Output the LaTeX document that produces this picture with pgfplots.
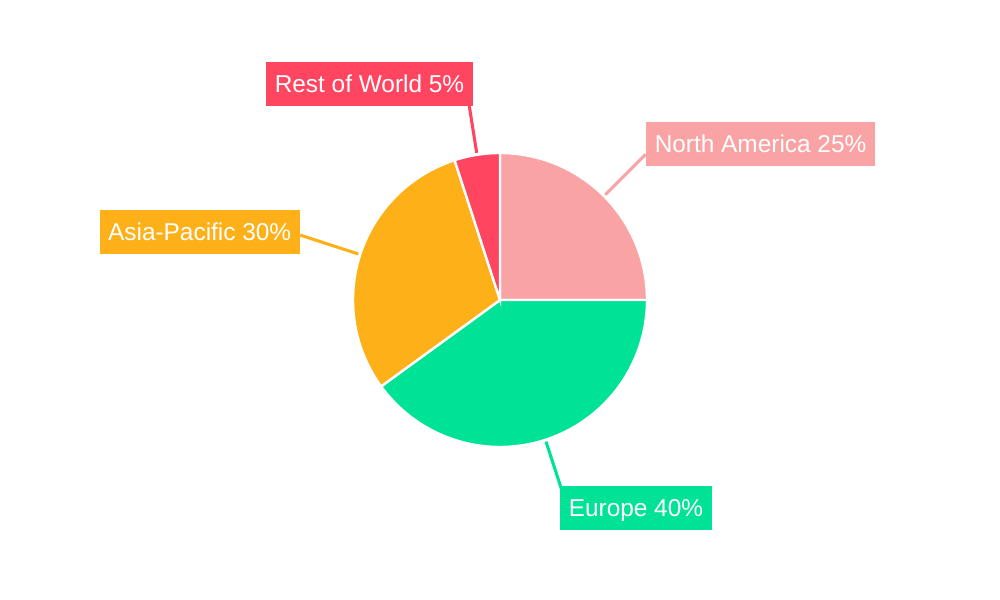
\documentclass[border=0pt]{standalone}
\usepackage{fontspec}
\setmainfont{Liberation Sans}
\usepackage{pgfplots}
\pgfplotsset{compat=1.18}

\definecolor{na}{HTML}{F9A3A4}
\definecolor{eu}{HTML}{00E396}
\definecolor{ap}{HTML}{FEB019}
\definecolor{rw}{HTML}{FF4560}

% pie centre (500,300), radius 147; slices run clockwise from 12 o'clock,
% parameter t is the cumulative share in percent
\newcommand{\slice}[3]{%
  \addplot[fill=#1, draw=white, line width=1.8pt, domain=#2:#3, samples=80, variable=\t]
    ({500+147*cos(90-3.6*\t)}, {300-147*sin(90-3.6*\t)}) -- (axis cs:500,300) -- cycle;
}

\tikzset{
  lab/.style={fill=#1, text=white, font=\fontsize{18.3}{20}\selectfont,
    inner xsep=6.4pt, inner ysep=9pt, text height=14pt, text depth=1pt},
  lead/.style={draw=#1, line width=2.3pt},
}

\begin{document}
\begin{tikzpicture}
\begin{axis}[
  scale only axis, width=750pt, height=450pt,
  xmin=0, xmax=1000, ymin=0, ymax=600, y dir=reverse,
  hide axis, clip=false,
]
\path (axis cs:0,0) rectangle (axis cs:1000,600);

% shares: North America 25, Europe 40, Asia-Pacific 30, Rest of World 5
\slice{na}{0}{25}
\slice{eu}{25}{65}
\slice{ap}{65}{95}
\slice{rw}{95}{100}

% leader lines along each slice's middle angle
\draw[lead=na] (axis cs:{500+149*cos(45)},{300-149*sin(45)}) -- (axis cs:{500+206*cos(45)},{300-206*sin(45)});
\draw[lead=eu] (axis cs:{500+149*cos(-72)},{300-149*sin(-72)}) -- (axis cs:{500+199*cos(-72)},{300-199*sin(-72)});
\draw[lead=ap] (axis cs:{500+149*cos(162)},{300-149*sin(162)}) -- (axis cs:{500+210*cos(162)},{300-210*sin(162)});
\draw[lead=rw] (axis cs:{500+149*cos(99)},{300-149*sin(99)}) -- (axis cs:{500+198*cos(99)},{300-198*sin(99)});

\node[lab=na, anchor=north west] at (axis cs:646,122) {North America 25\%};
\node[lab=eu, anchor=north west] at (axis cs:560,486) {Europe 40\%};
\node[lab=ap, anchor=north east] at (axis cs:300,210) {Asia-Pacific 30\%};
\node[lab=rw, anchor=north east] at (axis cs:473,62) {Rest of World 5\%};
\end{axis}
\end{tikzpicture}
\end{document}
